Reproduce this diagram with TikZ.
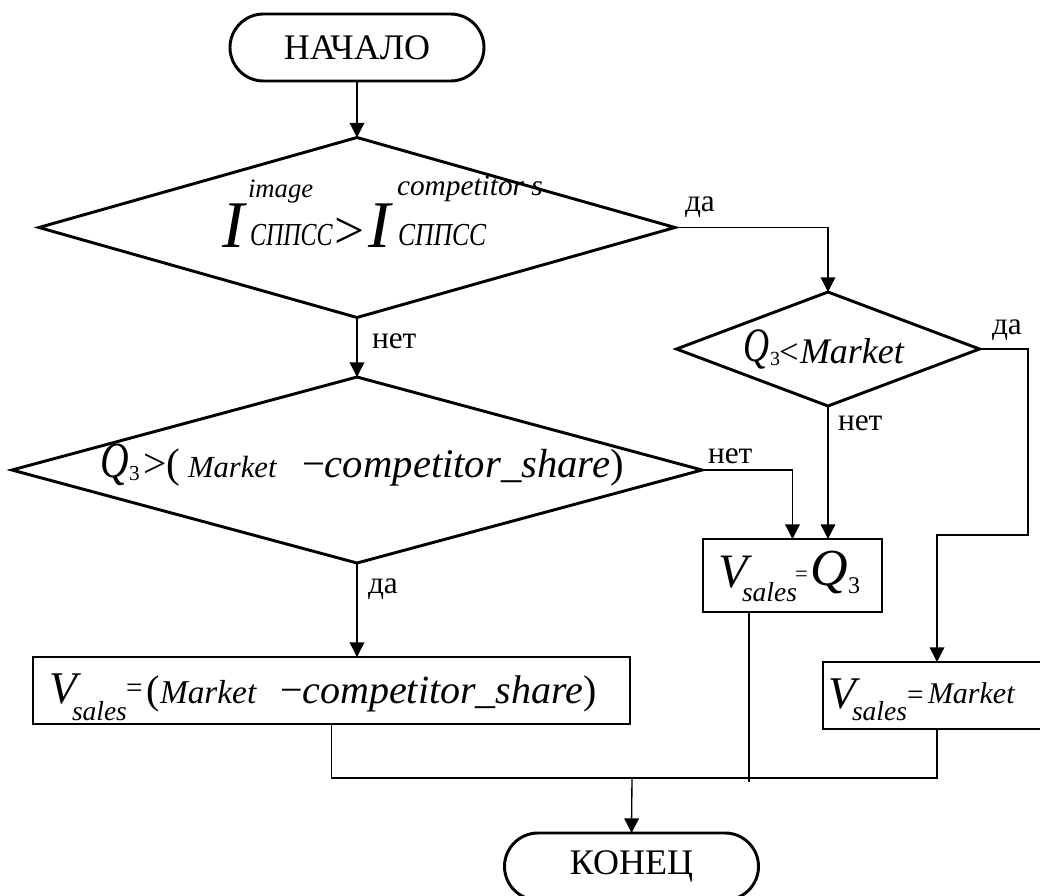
\documentclass[tikz,border=0pt]{standalone}
\usepackage{fontspec}
\usepackage{graphicx}
\setmainfont{Liberation Serif}
\usetikzlibrary{shapes.geometric,shapes.misc,arrows.meta}
% font size helper: \fsz{size}{text}
\newcommand\fsz[2]{{\fontsize{#1}{#1}\selectfont #2}}
\begin{document}
\begin{tikzpicture}[x=0.75pt,y=-0.75pt,
  shapeline/.style={draw=black,line width=2.2pt},
  conn/.style={draw=black,line width=1pt},
  arr/.style={conn,-{Triangle[length=11pt,width=11pt]}},
  term/.style={rounded rectangle,shapeline,inner sep=0pt,outer sep=0pt,
    minimum width=190.5pt,minimum height=50.25pt,
    font={\fontsize{27pt}{27pt}\selectfont}},
  dec/.style={diamond,shapeline,inner sep=0pt,outer sep=0pt},
  blk/.style={rectangle,shapeline,inner sep=0pt,outer sep=0pt},
  txt/.style={inner sep=0pt,outer sep=0pt,anchor=base west},
  lbl/.style={txt,font={\fontsize{23.5pt}{23.5pt}\selectfont}}]

% canvas
\fill[white] (0,0) rectangle (1040,896);
\useasboundingbox (0,0) rectangle (1040,896);

% terminals
\node[term] (start) at (357,47.5) {\raisebox{-2.5pt}{НАЧАЛО}};
\node[term] (end) at (631.5,866.5) {\raisebox{-4.5pt}{КОНЕЦ}};

% decisions
\node[dec,minimum width=477pt,minimum height=135pt] (d1) at (357,227.5) {};
\node[dec,minimum width=517.5pt,minimum height=139.5pt] (d2) at (357,470) {};
\node[dec,minimum width=227.25pt,minimum height=85.5pt] (d3) at (828,349) {};

% process blocks
\node[blk,minimum width=447.75pt,minimum height=50.25pt] (b1) at (331.5,690.5) {};
\node[blk,minimum width=134.25pt,minimum height=54.75pt] (b2) at (792.5,575.5) {};
\node[blk,minimum width=171pt,minimum height=50.25pt] (b3) at (937,695.5) {};

% condition 1: I^image_SPPSS > I^competitor s_SPPSS
\node[txt] (c1a) at (222,247) {\fsz{50pt}{\itshape I}};
\node[txt] (c1b) at (248,197) {\fsz{20pt}{\itshape image}};
\node[txt] (c1c) at (250,245) {\scalebox{0.75}[1]{\fsz{24pt}{\itshape СППСС}}};
\node[txt] (c1d) at (334,248) {\fsz{40pt}{>}};
\node[txt] (c1e) at (368,247) {\fsz{50pt}{\itshape I}};
\node[txt] (c1f) at (397,195) {\fsz{22pt}{\itshape competitor s}};
\node[txt] (c1g) at (398,245) {\scalebox{0.8}[1]{\fsz{24pt}{\itshape СППСС}}};

% condition 2: Q3 > (Market - competitor_share)
\node[txt] (c2a) at (100,477) {\scalebox{0.78}[1]{\fsz{38pt}{\itshape Q}}};
\node[txt] (c2b) at (129,480) {\fsz{16pt}{3}};
\node[txt] (c2c) at (143,477) {\fsz{31pt}{>(}};
\node[txt] (c2d) at (188,477) {\fsz{23pt}{\itshape Market}};
\node[txt] (c2e) at (302,477) {\fsz{30.5pt}{−\itshape competitor\_share\upshape)}};

% condition 3: Q3 < Market
\node[txt] (c3a) at (743,361) {\scalebox{0.75}[1]{\fsz{36pt}{\itshape Q}}};
\node[txt] (c3b) at (770,365) {\fsz{15pt}{3}};
\node[txt] (c3c) at (779,363) {\fsz{26pt}{<}};
\node[txt] (c3d) at (800,363) {\fsz{27pt}{\itshape Market}};

% block 1: V_sales = (Market - competitor_share)
\node[txt] (e1a) at (50,703) {\fsz{34pt}{\itshape V}};
\node[txt] (e1b) at (72,720) {\fsz{20.6pt}{\itshape sales}};
\node[txt] (e1c) at (126,697) {\fsz{22pt}{=}};
\node[txt] (e1d) at (146,703) {\fsz{30pt}{(}};
\node[txt] (e1e) at (160,703) {\fsz{25pt}{\itshape Market}};
\node[txt] (e1f) at (280,703) {\fsz{30pt}{−\itshape competitor\_share\upshape)}};

% block 2: V_sales = Q3
\node[txt] (e2a) at (718,587) {\fsz{36pt}{\itshape V}};
\node[txt] (e2b) at (742,601) {\fsz{20.6pt}{\itshape sales}};
\node[txt] (e2c) at (795,581) {\fsz{17pt}{=}};
\node[txt] (e2d) at (810,585) {\fsz{39pt}{\itshape Q}};
\node[txt] (e2e) at (848,593) {\fsz{18pt}{3}};

% block 3: V_sales = Market
\node[txt] (e3a) at (828,708) {\fsz{34pt}{\itshape V}};
\node[txt] (e3b) at (852,720) {\fsz{20.6pt}{\itshape sales}};
\node[txt] (e3c) at (907,704) {\fsz{22pt}{=}};
\node[txt] (e3d) at (928,703) {\fsz{22.5pt}{\itshape Market}};

% branch labels
\node[lbl] (l1) at (685,211) {да};
\node[lbl] (l2) at (372,348) {нет};
\node[lbl] (l3) at (992,334) {да};
\node[lbl] (l4) at (838,430) {нет};
\node[lbl] (l5) at (708,463) {нет};
\node[lbl] (l6) at (368,593) {да};

% helper points
\coordinate (r1) at (1028,535);
\coordinate (m) at (632,778);
\coordinate (b2out) at (749,782);

% connectors
\draw[arr] (start.south) -- (d1.north);
\draw[arr] (d1.east) -| (d3.north);
\draw[arr] (d1.south) -- (d2.north);
\draw[arr] (d3.south) -- (d3.south |- b2.north);
\draw[arr] (d2.east) -| (b2.north);
\draw[arr] (d3.east) -| (r1) -| (b3.north);
\draw[arr] (d2.south) -- (d2.south |- b1.north);
\draw[conn] (b1.south) |- (m) -| (b3.south);
\draw[conn] (b2.south -| b2out) -- (b2out);
\draw[arr] (m) -- (end.north);
\end{tikzpicture}
\end{document}
